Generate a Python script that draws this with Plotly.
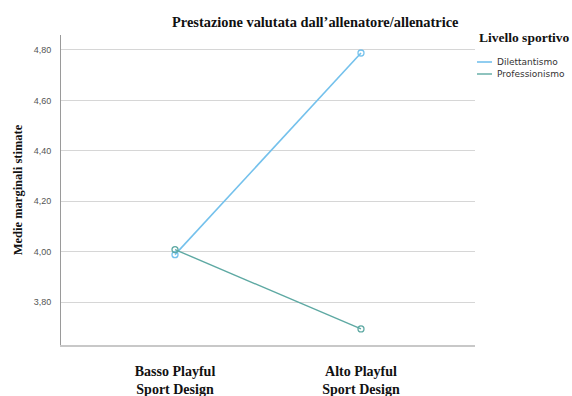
import plotly.graph_objects as go

categories = ["Basso Playful<br>Sport Design", "Alto Playful<br>Sport Design"]
series_names = ["Dilettantismo", "Professionismo"]
dilettantismo = [3.988, 4.788]
professionismo = [4.008, 3.693]
y_ticks = [3.8, 4.0, 4.2, 4.4, 4.6, 4.8]
y_tick_labels = ["3,80", "4,00", "4,20", "4,40", "4,60", "4,80"]

serif = "Liberation Serif, Times New Roman, serif"
sans = "DejaVu Sans, Verdana, sans-serif"
colors = ["#74c1ec", "#5ea9a3"]
widths = [1.6, 1.4]

# plot area in pixels
L, R, T, B = 61, 475, 35, 345
W, H = R - L, B - T


def px(x):
    return (x - L) / W


def py(y):
    return (B - y) / H


fig = go.Figure()
for name, vals, col, lw in zip(series_names, [dilettantismo, professionismo], colors, widths):
    fig.add_trace(go.Scatter(
        x=[0, 1], y=vals, name=name, mode="lines+markers", showlegend=False,
        line=dict(color=col, width=lw),
        marker=dict(symbol="circle-open", size=6, color=col, line=dict(width=1.3)),
    ))

shapes = []
annotations = [
    dict(text="<b>Prestazione valutata dall\u2019allenatore/allenatrice</b>",
         xref="paper", yref="paper", x=px(315), y=py(22),
         xanchor="center", yanchor="middle", showarrow=False,
         font=dict(family=serif, size=14.4, color="#111")),
    dict(text="<b>Livello sportivo</b>",
         xref="paper", yref="paper", x=px(477), y=py(37),
         xanchor="left", yanchor="middle", showarrow=False,
         font=dict(family=serif, size=13.5, color="#111")),
]
# manual legend
for i, (name, col, lw) in enumerate(zip(series_names, colors, widths)):
    yy = 62 + 12 * i
    shapes.append(dict(type="line", xref="paper", yref="paper",
                       x0=px(477), x1=px(492), y0=py(yy), y1=py(yy),
                       line=dict(color=col, width=lw)))
    annotations.append(dict(text=name, xref="paper", yref="paper",
                            x=px(495), y=py(yy), xanchor="left", yanchor="middle",
                            showarrow=False, font=dict(family=sans, size=9, color="#333")))

fig.update_layout(
    width=572, height=396,
    margin=dict(l=L, r=572 - R, t=T, b=396 - B, autoexpand=False),
    paper_bgcolor="white", plot_bgcolor="white",
    showlegend=False,
    xaxis=dict(
        range=[-0.613, 1.613], tickmode="array", tickvals=[0, 1],
        ticktext=["<b>" + c + "</b>" for c in categories],
        tickfont=dict(family=serif, size=14, color="#111"),
        showgrid=False, zeroline=False, automargin=False,
        showline=True, linecolor="#c8c8c8", linewidth=2,
        ticks="", ticklabelstandoff=12,
    ),
    yaxis=dict(
        range=[3.6294, 4.8595], tickmode="array", tickvals=y_ticks, ticktext=y_tick_labels,
        tickfont=dict(family="Liberation Sans, Arial, sans-serif", size=9, color="#555"),
        showgrid=True, gridcolor="#d6d6d6", gridwidth=1.4, automargin=False,
        zeroline=False, showline=True, linecolor="#9a9a9a", linewidth=1,
        ticks="", ticklabelstandoff=7,
        title=dict(text="<b>Medie marginali stimate</b>",
                   font=dict(family=serif, size=12.5, color="#111"), standoff=8),
    ),
    shapes=shapes,
    annotations=annotations,
)

fig.write_html("out.html")
